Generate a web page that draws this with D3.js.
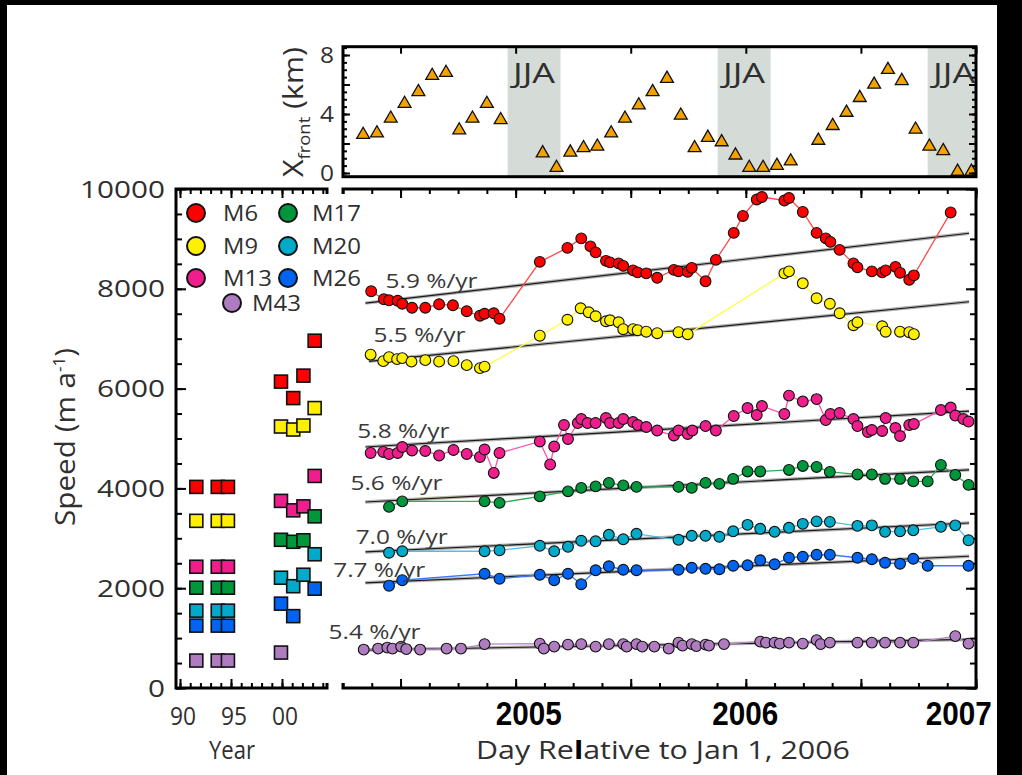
<!DOCTYPE html>
<meta charset="utf-8">
<style>
	body { margin: 0; background: #000; }
	svg { display: block; }
	text { font-family: "Open Sans", sans-serif; fill: #2f2f2f; }
</style>
<body>
<svg id="svg"></svg>
<script src="https://cdn.jsdelivr.net/npm/d3@7/dist/d3.min.js"></script>
<script>

// DATA
var names = [ 'M6', 'M9', 'M13', 'M17', 'M20', 'M26', 'M43' ]
var fills = [ '#ff0000', '#fff000', '#f01e8c', '#00963c', '#00aac8', '#0064f0', '#b07cc0' ]
var strokes = [ '#ff4a4a', '#ffff40', '#ff50aa', '#33aa55', '#50c0e0', '#3a78ff', '#b488c4' ]

// older speeds (left panel), year 19xx
var squareYears = [ 91.6, 93.7, 94.7, 99.9, 101.1, 102.1, 103.2 ]
var sqM6  = [ 4030, 4030, 4030, 6140, 5810, 6260, 6960 ]
var sqM9  = [ 3350, 3350, 3350, 5240, 5180, 5260, 5610 ]
var sqM13 = [ 2430, 2430, 2430, 3750, 3560, 3640, 4250 ]
var sqM17 = [ 2010, 2010, 2010, 2970, 2930, 2960, 3440 ]
var sqM20 = [ 1550, 1550, 1550, 2210, 2040, 2270, 2680 ]
var sqM26 = [ 1250, 1250, 1250, 1690, 1440, null, 1990 ]
var sqM43 = [ 550, 550, 550, 710, null, null, null ]

// front position (top panel), day relative to Jan 1 2006
var frontDays = [ -465, -441, -417, -393, -369, -345, -321, -298, -275, -250, -226, -153, -129, -105, -82, -58, -34, -10, 14, 38, 63, 87, 111, 134, 158, 182, 206, 230, 254, 278, 326, 351, 375, 398, 423, 447, 471, 495, 519, 543, 568, 592 ]
var frontKm = [ 2.6, 2.7, 3.7, 4.7, 5.5, 6.6, 6.8, 2.9, 3.7, 4.7, 3.6, 1.35, 0.36, 1.4, 1.7, 1.8, 2.7, 3.7, 4.6, 5.5, 6.4, 3.9, 1.7, 2.4, 2.1, 1.2, 0.36, 0.36, 0.5, 0.8, 2.2, 3.2, 4.1, 5.1, 6.0, 7.0, 6.25, 2.95, 1.8, 1.5, 0.1, 0.1 ]
var jja = [ [ -214, -122 ], [ 151, 243 ], [ 516, 608 ] ]

// speeds (main panel)
var m6Days = [ -451, -429, -420, -405, -397, -380, -357, -333, -309, -285, -262, -254, -238, -228, -158, -110, -86, -70, -61, -43, -36, -21, -13, 4, 12, 27, 46, 75, 83, 99, 106, 130, 148, 179, 195, 219, 228, 267, 275, 299, 323, 339, 347, 363, 387, 394, 419, 437, 443, 460, 468, 484, 492, 556 ]
var m6Speed = [ 7950, 7790, 7770, 7760, 7700, 7620, 7620, 7690, 7670, 7550, 7460, 7500, 7510, 7400, 8540, 8820, 9010, 8850, 8730, 8560, 8530, 8510, 8460, 8370, 8330, 8310, 8220, 8380, 8350, 8340, 8420, 8150, 8580, 9120, 9460, 9790, 9840, 9770, 9820, 9540, 9120, 9010, 8940, 8780, 8510, 8430, 8350, 8330, 8370, 8440, 8320, 8180, 8270, 9530 ]

var m9Days = [ -452, -430, -420, -406, -397, -381, -357, -333, -308, -285, -262, -254, -158, -110, -87, -73, -61, -43, -36, -21, -13, 4, 12, 27, 46, 83, 99, 267, 275, 299, 323, 346, 363, 387, 394, 437, 443, 468, 484, 492 ]
var m9Speed = [ 6680, 6550, 6630, 6590, 6610, 6540, 6570, 6540, 6550, 6470, 6410, 6440, 7060, 7380, 7610, 7530, 7450, 7350, 7370, 7330, 7190, 7190, 7170, 7140, 7110, 7130, 7090, 8310, 8350, 8110, 7810, 7700, 7510, 7270, 7330, 7250, 7140, 7140, 7130, 7090 ]

var m13Days = [ -452, -430, -420, -405, -397, -380, -357, -333, -308, -285, -262, -254, -238, -228, -158, -140, -133, -116, -109, -92, -86, -75, -61, -43, -36, -21, -13, 4, 12, 27, 46, 75, 83, 99, 107, 130, 148, 179, 203, 219, 228, 267, 275, 299, 323, 339, 347, 363, 387, 394, 412, 419, 437, 443, 460, 468, 484, 492, 539, 556, 564, 578, 587 ]
var m13Speed = [ 4710, 4730, 4690, 4710, 4830, 4760, 4750, 4660, 4770, 4690, 4630, 4780, 4310, 4710, 4940, 4480, 4840, 5270, 4990, 5310, 5390, 5310, 5310, 5410, 5310, 5310, 5390, 5330, 5270, 5230, 5160, 5060, 5160, 5090, 5160, 5250, 5160, 5450, 5610, 5470, 5650, 5490, 5860, 5740, 5790, 5370, 5490, 5510, 5390, 5250, 5130, 5170, 5150, 5410, 5210, 5050, 5270, 5290, 5570, 5620, 5460, 5390, 5340 ]

var m17Days = [ -420, -397, -254, -228, -158, -109, -86, -61, -38, -13, 10, 83, 106, 130, 154, 178, 203, 225, 275, 299, 323, 346, 394, 419, 442, 468, 491, 516, 539, 564, 587 ]
var m17Speed = [ 3630, 3740, 3740, 3710, 3840, 3940, 4010, 4040, 4110, 4060, 4030, 4030, 4010, 4110, 4090, 4190, 4340, 4340, 4370, 4450, 4430, 4330, 4280, 4280, 4190, 4190, 4140, 4140, 4470, 4270, 4070 ]

var m20Days = [ -420, -397, -254, -228, -158, -133, -109, -86, -61, -38, -13, 10, 83, 106, 130, 154, 178, 203, 225, 250, 275, 299, 323, 346, 394, 419, 442, 468, 491, 539, 564, 587 ]
var m20Speed = [ 2710, 2740, 2740, 2760, 2850, 2740, 2830, 2950, 2940, 3070, 2980, 3090, 2970, 3050, 3050, 3030, 3140, 3270, 3190, 3130, 3210, 3290, 3340, 3330, 3250, 3260, 3130, 3140, 3160, 3230, 3260, 2960 ]

var m26Days = [ -420, -397, -254, -228, -158, -133, -109, -86, -61, -38, -13, 10, 83, 106, 130, 154, 178, 203, 225, 250, 275, 299, 323, 346, 394, 419, 442, 468, 491, 516, 587 ]
var m26Speed = [ 2050, 2160, 2290, 2190, 2270, 2160, 2290, 2080, 2360, 2440, 2370, 2360, 2370, 2410, 2390, 2380, 2450, 2460, 2560, 2480, 2610, 2630, 2670, 2670, 2610, 2580, 2510, 2490, 2590, 2450, 2450 ]

var m43Days = [ -464, -439, -423, -414, -399, -390, -366, -320, -295, -254, -158, -151, -133, -109, -86, -61, -38, -13, -7, 10, 20, 41, 66, 83, 90, 106, 114, 130, 136, 162, 225, 235, 250, 259, 275, 299, 323, 330, 346, 394, 419, 442, 468, 491, 564, 587 ]
var m43Speed = [ 770, 790, 810, 790, 830, 780, 770, 790, 790, 880, 890, 790, 830, 870, 880, 830, 880, 880, 830, 880, 830, 830, 790, 910, 850, 880, 840, 870, 850, 880, 930, 910, 910, 890, 910, 890, 960, 880, 910, 910, 910, 910, 910, 910, 1040, 890 ]

// linear trends
var trendText  = [ '5.9 %/yr', '5.5 %/yr', '5.8 %/yr', '5.6 %/yr', '7.0 %/yr', '7.7 %/yr', '5.4 %/yr' ]
var trendStart = [ [ -461, 7713 ], [ -455, 6547 ], [ -461, 4830 ], [ -461, 3727 ], [ -461, 2727 ], [ -461, 2107 ], [ -467, 760 ] ]
var trendEnd   = [ [ 588, 9113 ], [ 588, 7740 ], [ 588, 5547 ], [ 588, 4373 ], [ 588, 3307 ], [ 588, 2640 ], [ 588, 973 ] ]
var trendLabelAt = [ [ -426, 8026 ], [ -447, 6926 ], [ -475, 5014 ], [ -487, 3960 ], [ -478, 2894 ], [ -517, 2226 ], [ -525, 973 ] ]

// tick labels
var speedTicks = [ 0, 2000, 4000, 6000, 8000, 10000 ]
var yearTicks = [ 90, 95, 100 ]
var yearTickText = [ '90', '95', '00' ]
var frontTicks = [ 0, 4, 8 ]
var yearMarkDays = [ -177, 199, 570 ]
var yearMarkText = [ '2005', '2006', '2007' ]

var squares = [ sqM6, sqM9, sqM13, sqM17, sqM20, sqM26, sqM43 ]
var days = [ m6Days, m9Days, m13Days, m17Days, m20Days, m26Days, m43Days ]
var speeds = [ m6Speed, m9Speed, m13Speed, m17Speed, m20Speed, m26Speed, m43Speed ]

// CANVAS
var width = 1022
var height = 775

var svg = d3.select( '#svg' )
	.attr( 'width', width )
	.attr( 'height', height )

svg.append( 'rect' ).attr( 'width', width ).attr( 'height', height ).attr( 'fill', '#000' )
svg.append( 'rect' ).attr( 'x', 7 ).attr( 'y', 5 ).attr( 'width', 990 ).attr( 'height', 770 ).attr( 'fill', '#fff' )

// SCALES
var x = d3.scaleLinear().domain([ -500, 600 ]).range([ 343, 976 ])
var y = d3.scaleLinear().domain([ 0, 10000 ]).range([ 688, 189 ])
var yr = d3.scaleLinear().domain([ 90, 100 ]).range([ 180, 282 ])
var yf = d3.scaleLinear().domain([ 0, 8 ]).range([ 173, 55 ])

var topY0 = 46.7, topY1 = 176.7

// tick helper: axis with no domain, black 2px ticks
function ticks( axis, tx, ty ){
	svg.append( 'g' )
		.attr( 'transform', 'translate(' + tx + ',' + ty + ')' )
		.attr( 'color', '#000' )
		.call( axis.tickFormat( '' ).tickPadding( 0 ))
		.call( g => g.select( '.domain' ).remove() )
		.selectAll( 'line' ).attr( 'stroke-width', 2 )
}

// TOP PANEL (front position)
svg.append( 'clipPath' ).attr( 'id', 'topclip' )
	.append( 'rect' )
	.attr( 'x', x( -500 )).attr( 'y', topY0 )
	.attr( 'width', x( 600 ) - x( -500 )).attr( 'height', topY1 - topY0 )

var topPanel = svg.append( 'g' ).attr( 'clip-path', 'url(#topclip)' )

topPanel.selectAll( 'rect.jja' )
	.data( jja )
	.enter()
	.append( 'rect' )
		.attr( 'x', d => x( d[0] ))
		.attr( 'width', d => x( d[1] ) - x( d[0] ))
		.attr( 'y', topY0 )
		.attr( 'height', topY1 - topY0 )
		.attr( 'fill', '#d5dbd6' )

topPanel.selectAll( 'text.jja' )
	.data( jja )
	.enter()
	.append( 'text' )
		.attr( 'x', d => x(( d[0] + d[1] ) / 2 ))
		.attr( 'y', 83 )
		.attr( 'text-anchor', 'middle' )
		.attr( 'textLength', 42 )
		.attr( 'lengthAdjust', 'spacingAndGlyphs' )
		.style( 'font-size', '28px' )
		.text( 'JJA' )

topPanel.selectAll( 'path.front' )
	.data( frontDays )
	.enter()
	.append( 'path' )
		.attr( 'd', d3.symbol( d3.symbolTriangle, 72 ))
		.attr( 'transform', ( d, i ) => 'translate(' + x( d ) + ',' + yf( frontKm[i] ) + ')' )
		.attr( 'fill', '#f4a200' )
		.attr( 'stroke', '#111' )
		.attr( 'stroke-width', 1.3 )

ticks( d3.axisRight( yf ).tickValues( d3.range( 0, 8.6, 0.5 )).tickSize( 4 ), x( -500 ), 0 )
ticks( d3.axisRight( yf ).tickValues([ 0, 2, 4, 6, 8 ]).tickSize( 7 ), x( -500 ), 0 )
ticks( d3.axisLeft( yf ).tickValues( d3.range( 0, 8.6, 0.5 )).tickSize( 4 ), x( 600 ), 0 )
ticks( d3.axisLeft( yf ).tickValues([ 0, 2, 4, 6, 8 ]).tickSize( 7 ), x( 600 ), 0 )
ticks( d3.axisBottom( x ).tickValues( d3.range( -400, 601, 200 )).tickSize( 7 ), 0, topY0 )

svg.append( 'rect' )
	.attr( 'x', x( -500 )).attr( 'y', topY0 )
	.attr( 'width', x( 600 ) - x( -500 )).attr( 'height', topY1 - topY0 )
	.attr( 'fill', 'none' )
	.attr( 'stroke', '#000' )
	.attr( 'stroke-width', 3 )

svg.selectAll( 'text.ftick' )
	.data( frontTicks )
	.enter()
	.append( 'text' )
		.attr( 'x', 334 )
		.attr( 'y', d => yf( d ))
		.attr( 'dy', '0.36em' )
		.attr( 'text-anchor', 'end' )
		.attr( 'textLength', 14 )
		.attr( 'lengthAdjust', 'spacingAndGlyphs' )
		.style( 'font-size', '22px' )
		.text( d => d )

var xf = svg.append( 'text' )
	.attr( 'transform', 'translate(303,112) rotate(-90)' )
	.attr( 'text-anchor', 'middle' )
	.attr( 'textLength', 130 )
	.attr( 'lengthAdjust', 'spacingAndGlyphs' )
	.style( 'font-size', '28px' )
xf.append( 'tspan' ).text( 'X' )
xf.append( 'tspan' ).attr( 'dy', 7 ).style( 'font-size', '17px' ).text( 'front' )
xf.append( 'tspan' ).attr( 'dy', -7 ).text( ' (km)' )

// LEFT PANEL (older years)
ticks( d3.axisRight( y ).tickValues( d3.range( 0, 10001, 500 )).tickSize( 6 ), 176, 0 )
ticks( d3.axisRight( y ).tickValues( d3.range( 0, 10001, 2000 )).tickSize( 10 ), 176, 0 )
ticks( d3.axisTop( yr ).tickValues( d3.range( 90, 105 )).tickSize( 5 ), 0, 688 )
ticks( d3.axisTop( yr ).tickValues( yearTicks ).tickSize( 9 ), 0, 688 )
ticks( d3.axisBottom( yr ).tickValues( d3.range( 90, 105 )).tickSize( 5 ), 0, 189 )
ticks( d3.axisBottom( yr ).tickValues( yearTicks ).tickSize( 9 ), 0, 189 )

svg.append( 'path' )
	.attr( 'd', 'M327,194V189H176V688H327V683' )
	.attr( 'fill', 'none' )
	.attr( 'stroke', '#000' )
	.attr( 'stroke-width', 3 )

squares.forEach(( vals, k ) => {
	svg.append( 'g' ).selectAll( 'rect' )
		.data( squareYears.map(( yy, i ) => [ yy, vals[i] ]).filter( d => d[1] != null ))
		.enter()
		.append( 'rect' )
			.attr( 'x', d => yr( d[0] ) - 6.5 )
			.attr( 'y', d => y( d[1] ) - 6.5 )
			.attr( 'width', 13 )
			.attr( 'height', 13 )
			.attr( 'fill', fills[k] )
			.attr( 'stroke', '#111' )
			.attr( 'stroke-width', 1.6 )
})

svg.selectAll( 'text.stick' )
	.data( speedTicks )
	.enter()
	.append( 'text' )
		.attr( 'x', 165 )
		.attr( 'y', d => y( d ))
		.attr( 'dy', '0.36em' )
		.attr( 'text-anchor', 'end' )
		.attr( 'textLength', d => String( d ).length * 17 )
		.attr( 'lengthAdjust', 'spacingAndGlyphs' )
		.style( 'font-size', '24px' )
		.text( d => d )

svg.selectAll( 'text.ytick' )
	.data( yearTicks )
	.enter()
	.append( 'text' )
		.attr( 'x', d => yr( d ) + 3 )
		.attr( 'y', 725 )
		.attr( 'text-anchor', 'middle' )
		.attr( 'textLength', 26 )
		.attr( 'lengthAdjust', 'spacingAndGlyphs' )
		.style( 'font-size', '25px' )
		.text(( d, i ) => yearTickText[i] )

svg.append( 'text' )
	.attr( 'x', 232 ).attr( 'y', 759 )
	.attr( 'text-anchor', 'middle' )
	.attr( 'textLength', 46 )
	.attr( 'lengthAdjust', 'spacingAndGlyphs' )
	.style( 'font-size', '25px' )
	.text( 'Year' )

var sp = svg.append( 'text' )
	.attr( 'transform', 'translate(75,437) rotate(-90)' )
	.attr( 'text-anchor', 'middle' )
	.attr( 'textLength', 178 )
	.attr( 'lengthAdjust', 'spacingAndGlyphs' )
	.style( 'font-size', '28px' )
sp.append( 'tspan' ).text( 'Speed (m a' )
sp.append( 'tspan' ).attr( 'dy', -10 ).style( 'font-size', '16px' ).text( '-1' )
sp.append( 'tspan' ).attr( 'dy', 10 ).text( ')' )

// RIGHT PANEL (speed time series)
ticks( d3.axisTop( x ).tickValues( d3.range( -500, 601, 50 )).tickSize( 5 ), 0, 688 )
ticks( d3.axisTop( x ).tickValues( d3.range( -400, 601, 200 )).tickSize( 9 ), 0, 688 )
ticks( d3.axisBottom( x ).tickValues( d3.range( -500, 601, 50 )).tickSize( 5 ), 0, 189 )
ticks( d3.axisBottom( x ).tickValues( d3.range( -400, 601, 200 )).tickSize( 9 ), 0, 189 )
ticks( d3.axisLeft( y ).tickValues( d3.range( 0, 10001, 500 )).tickSize( 6 ), x( 600 ), 0 )
ticks( d3.axisLeft( y ).tickValues( d3.range( 0, 10001, 2000 )).tickSize( 10 ), x( 600 ), 0 )

svg.append( 'path' )
	.attr( 'd', 'M' + x( -500 ) + ',194V189H' + x( 600 ) + 'V688H' + x( -500 ) + 'V683' )
	.attr( 'fill', 'none' )
	.attr( 'stroke', '#000' )
	.attr( 'stroke-width', 3 )

// trend lines
var trendLine = ( d, i ) => 'M' + x( d[0] ) + ',' + y( d[1] ) + 'L' + x( trendEnd[i][0] ) + ',' + y( trendEnd[i][1] )

svg.append( 'g' ).selectAll( 'path' )
	.data( trendStart )
	.enter()
	.append( 'path' )
		.attr( 'd', trendLine )
		.attr( 'stroke', '#b4b4b4' )
		.attr( 'stroke-width', 3.5 )

svg.append( 'g' ).selectAll( 'path' )
	.data( trendStart )
	.enter()
	.append( 'path' )
		.attr( 'd', trendLine )
		.attr( 'stroke', '#1a1a1a' )
		.attr( 'stroke-width', 1.2 )

// series
var line = d3.line().x( d => x( d[0] )).y( d => y( d[1] ))

days.forEach(( dd, k ) => {
	var pts = dd.map(( d, i ) => [ d, speeds[k][i] ])

	svg.append( 'path' )
		.datum( pts )
		.attr( 'd', line )
		.attr( 'fill', 'none' )
		.attr( 'stroke', strokes[k] )
		.attr( 'stroke-width', 1.3 )

	svg.append( 'g' ).selectAll( 'circle' )
		.data( pts )
		.enter()
		.append( 'circle' )
			.attr( 'cx', d => x( d[0] ))
			.attr( 'cy', d => y( d[1] ))
			.attr( 'r', 5.4 )
			.attr( 'fill', fills[k] )
			.attr( 'stroke', '#111' )
			.attr( 'stroke-width', 1.1 )
})

svg.selectAll( 'text.rate' )
	.data( trendText )
	.enter()
	.append( 'text' )
		.attr( 'x', ( d, i ) => x( trendLabelAt[i][0] ))
		.attr( 'y', ( d, i ) => y( trendLabelAt[i][1] ))
		.attr( 'textLength', 92 )
		.attr( 'lengthAdjust', 'spacingAndGlyphs' )
		.style( 'font-size', '20px' )
		.style( 'fill', '#3a3a3a' )
		.text( d => d )

svg.selectAll( 'text.yearmark' )
	.data( yearMarkDays )
	.enter()
	.append( 'text' )
		.attr( 'x', d => x( d ))
		.attr( 'y', 725 )
		.attr( 'text-anchor', 'middle' )
		.attr( 'textLength', 66 )
		.attr( 'lengthAdjust', 'spacingAndGlyphs' )
		.style( 'font-family', '"Liberation Sans", Arial, sans-serif' )
		.style( 'font-weight', 'bold' )
		.style( 'font-size', '33px' )
		.style( 'fill', '#000' )
		.text(( d, i ) => yearMarkText[i] )

var dl = svg.append( 'text' )
	.attr( 'x', 663 ).attr( 'y', 759 )
	.attr( 'text-anchor', 'middle' )
	.attr( 'textLength', 374 )
	.attr( 'lengthAdjust', 'spacingAndGlyphs' )
	.style( 'font-size', '25px' )
dl.append( 'tspan' ).text( 'Day Re' )
dl.append( 'tspan' ).style( 'font-weight', 'bold' ).style( 'fill', '#000' ).text( 'l' )
dl.append( 'tspan' ).text( 'ative to Jan 1, 2006' )

// LEGEND
var legendX = [ 196, 196, 196, 288, 288, 288, 232 ]
var legendY = [ 213, 246, 278, 213, 246, 278, 303 ]
var order = [ 0, 1, 2, 3, 4, 5, 6 ]

var legend = svg.append( 'g' ).selectAll( 'g' )
	.data( order )
	.enter()
	.append( 'g' )
		.attr( 'transform', ( d, i ) => 'translate(' + legendX[i] + ',' + legendY[i] + ')' )

legend.append( 'circle' )
	.attr( 'r', 9 )
	.attr( 'fill', d => fills[d] )
	.attr( 'stroke', '#111' )
	.attr( 'stroke-width', 2 )

legend.append( 'text' )
	.attr( 'x', d => d == 6 ? 20 : ( d < 3 ? 27 : 24 ))
	.attr( 'dy', '0.36em' )
	.attr( 'textLength', d => names[d].length == 2 ? 35 : 49 )
	.attr( 'lengthAdjust', 'spacingAndGlyphs' )
	.style( 'font-size', '22px' )
	.text( d => names[d] )

</script>
</body>
